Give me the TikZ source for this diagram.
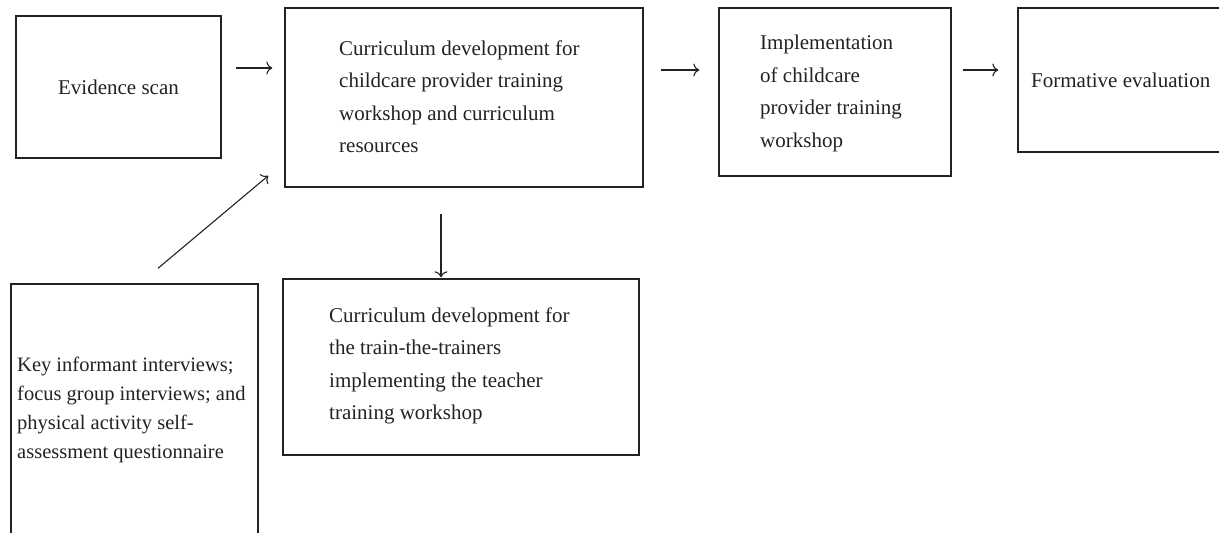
\documentclass[tikz,border=0pt]{standalone}
\usepackage{fontspec}
\setmainfont{Liberation Serif}
\usetikzlibrary{arrows.meta}
\definecolor{ink}{HTML}{222222}
\tikzset{
  box/.style={draw=ink, line width=1.4pt, rectangle, inner sep=0pt, text=ink,
    font=\fontsize{21}{24}\selectfont},
  txt/.style={anchor=west, align=left, inner sep=0pt, text=ink,
    font=\fontsize{21}{32.5}\selectfont},
  arr/.style={draw=ink, line width=1.1pt, -{To[length=6pt,width=13pt]}}
}
\begin{document}
\begin{tikzpicture}[x=1pt,y=-1pt]
\useasboundingbox (0,0) rectangle (1219,533);
\clip (0,0) rectangle (1219,533);
% boxes
\node[box, minimum width=205pt, minimum height=142pt] (ev) at (118.5,87) {Evidence scan};
\node[box, minimum width=358pt, minimum height=179pt] (cur) at (464,97.5) {};
\node[box, minimum width=232pt, minimum height=168pt] (imp) at (835,92) {};
\node[box, minimum width=232pt, minimum height=144pt] (form) at (1134,80) {};
\node[box, minimum width=356pt, minimum height=176pt] (cur2) at (461,367) {};
\node[box, minimum width=247pt, minimum height=290pt] (key) at (134.5,429) {};
% texts
\node[txt] (curt) at (339,96.5) {Curriculum development for\\childcare provider training\\workshop and curriculum\\resources};
\node[txt] (impt) at (760,93.5) {Implementation\\of childcare\\provider training\\workshop};
\node[txt] (formt) at (1031,80) {Formative evaluation};
\node[txt] (cur2t) at (329,366) {Curriculum development for\\the train-the-trainers\\implementing the teacher\\training workshop};
\node[txt, font=\fontsize{20.5}{29}\selectfont] (keyt) at (17,410) {Key informant interviews;\\focus group interviews; and\\physical activity self-\\assessment questionnaire};
% connectors
\draw[arr] ([xshift=14pt]ev.east |- 0,68) -- ([xshift=-12pt]cur.west |- 0,68);
\draw[arr] ([xshift=17pt]cur.east |- 0,70) -- ([xshift=-19pt]imp.west |- 0,70);
\draw[arr] ([xshift=11pt]imp.east |- 0,70) -- ([xshift=-19pt]form.west |- 0,70);
\draw[arr] ([yshift=-26pt]cur.south -| 441,0) -- ([yshift=1pt]cur2.north -| 441,0);
\draw[arr] ([shift={(23.5,-15)}]key.north) -- ([shift={(-16,-12)}]cur.south west);
\end{tikzpicture}
\end{document}
